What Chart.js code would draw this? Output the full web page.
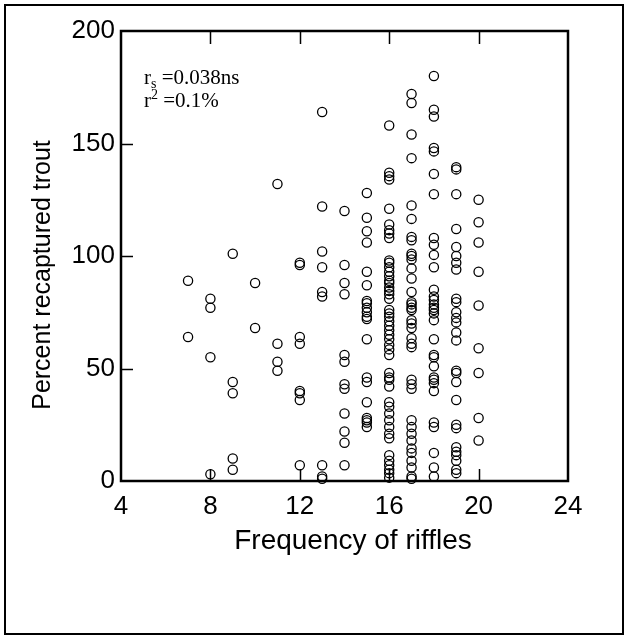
<!DOCTYPE html>
<html>
<head>
<meta charset="utf-8">
<script src="https://cdn.jsdelivr.net/npm/chart.js@4/dist/chart.umd.min.js"></script>
<style>
  body { margin: 0; background: #fff; }
  #wrap { width: 627px; height: 637px; }
</style>
</head>
<body>
<div id="wrap"><canvas id="mycanvas" width="627" height="637"></canvas></div>
<script>
// riffle frequency for each column of points
var riffleCounts = [7, 8, 9, 10, 11, 12, 13, 14, 15, 16, 17, 18, 19, 20];

// percent of recaptured trout, one list per riffle count
var recaptured = [
	[89, 64],
	[81, 77, 55, 3],
	[101, 44, 39, 10, 5],
	[88, 68],
	[132, 61, 53, 49],
	[97, 96, 64, 61, 40, 39, 36, 7],
	[164, 122, 102, 95, 84, 82, 7, 2, 1],
	[120, 96, 88, 83, 56, 53, 43, 41, 30, 22, 17, 7],
	[128, 117, 111, 106, 93, 87, 80, 79, 77, 75, 73, 72, 63, 46, 44, 35, 28, 27, 26, 24],
	[158, 137, 135.5, 134, 121, 114, 111.5, 110, 108, 98, 97, 95, 93, 91, 89, 88, 86, 84.5, 83, 81,
	 76, 74.5, 73, 71, 69, 67, 65, 63, 60.5, 58.5, 56, 48, 46, 45, 42, 35, 33, 30, 27, 24, 21, 19,
	 11.5, 9, 7, 5, 3.5, 1.5],
	[172, 168, 154, 143.5, 122.5, 116.5, 108.5, 107, 101, 100, 98.5, 94.5, 90, 84, 79.5, 78.5, 77, 76,
	 71.5, 70, 68, 63.5, 61, 59.5, 45, 43, 41, 27, 24, 21, 18, 14.5, 12.5, 9, 6, 2, 1],
	[180, 165, 162, 148, 146.5, 136.5, 127.5, 108, 105, 100.5, 95, 85, 82, 80.5, 78.5, 77, 76, 74.5,
	 71.5, 63, 56, 55, 51, 46, 45, 43.5, 40, 26, 24, 12.5, 6, 2],
	[139.5, 138.5, 127.5, 112, 104, 100, 97, 94, 81, 79.5, 75, 72.5, 70.5, 66, 62.5, 49, 48, 44, 36,
	 25, 23.5, 15, 13, 11.5, 9, 5, 3.5],
	[125, 115, 106, 93, 78, 59, 48, 28, 18]
];

var xTicks = [4, 8, 12, 16, 20, 24];
var yTicks = [0, 50, 100, 150, 200];
var xTitle = 'Frequency of riffles';
var yTitle = 'Percent recaptured trout';

var points = [];
for (var i in riffleCounts) {
	for (var j in recaptured[i]) {
		points.push({x: riffleCounts[i], y: recaptured[i][j]});
	}
}

// box, inward ticks, outer frame, axis titles and the r values
var decorations = {
	id: 'decorations',
	afterDraw: function(chart) {
		var ctx = chart.ctx;
		var a = chart.chartArea;
		var xs = chart.scales.x, ys = chart.scales.y;
		ctx.save();
		ctx.strokeStyle = '#000';

		ctx.lineWidth = 2;
		ctx.strokeRect(5, 5, 618, 629);

		ctx.lineWidth = 2.5;
		ctx.strokeRect(a.left, a.top, a.right - a.left, a.bottom - a.top);

		ctx.lineWidth = 1.5;
		ctx.beginPath();
		for (var k = 1; k < xTicks.length - 1; k++) {
			var px = Math.round(xs.getPixelForValue(xTicks[k])) + 0.5;
			ctx.moveTo(px, a.top); ctx.lineTo(px, a.top + 13);
			ctx.moveTo(px, a.bottom); ctx.lineTo(px, a.bottom - 12);
		}
		for (var k = 1; k < yTicks.length - 1; k++) {
			var py = Math.round(ys.getPixelForValue(yTicks[k])) + 0.5;
			ctx.moveTo(a.left, py); ctx.lineTo(a.left + 12, py);
		}
		ctx.stroke();

		ctx.fillStyle = '#000';
		ctx.textAlign = 'center';
		ctx.textBaseline = 'middle';
		ctx.font = '28px "Liberation Sans", Arial, sans-serif';
		ctx.fillText(xTitle, 353, 541);
		ctx.save();
		ctx.translate(43, 275);
		ctx.rotate(-Math.PI / 2);
		ctx.font = '25px "Liberation Sans", Arial, sans-serif';
		ctx.fillText(yTitle, 0, 0);
		ctx.restore();

		ctx.textAlign = 'left';
		ctx.textBaseline = 'alphabetic';
		var big = '21px "Liberation Serif", "Times New Roman", serif';
		var small = '14px "Liberation Serif", "Times New Roman", serif';
		var x0 = a.left + 23, b1 = 84, b2 = 107;
		ctx.font = big;
		ctx.fillText('r', x0, b1);
		var w = ctx.measureText('r').width;
		ctx.font = small;
		ctx.fillText('s', x0 + w, b1 + 4);
		var ws = ctx.measureText('s').width;
		ctx.font = big;
		ctx.fillText(' =0.038ns', x0 + w + ws, b1);

		ctx.fillText('r', x0, b2);
		ctx.font = small;
		ctx.fillText('2', x0 + w, b2 - 8);
		var w2 = ctx.measureText('2').width;
		ctx.font = big;
		ctx.fillText(' =0.1%', x0 + w + w2, b2);
		ctx.restore();
	}
};

var tickFont = {family: '"Liberation Sans", Arial, sans-serif', size: 26};

var ctx = document.getElementById('mycanvas');
var scatter = new Chart(ctx, {
	type: 'scatter',
	data: {
		datasets: [{
			data: points,
			pointStyle: 'circle',
			pointRadius: 4.6,
			pointBorderWidth: 1.3,
			borderColor: '#000',
			backgroundColor: 'rgba(0,0,0,0)',
			clip: false
		}]
	},
	options: {
		responsive: false,
		animation: false,
		devicePixelRatio: 1,
		layout: {padding: {left: 0, top: 31, right: 59, bottom: 82}},
		plugins: {legend: {display: false}, tooltip: {enabled: false}},
		scales: {
			x: {
				type: 'linear', min: 4, max: 24,
				grid: {display: false, drawTicks: false},
				border: {display: false},
				ticks: {stepSize: 4, padding: 10, color: '#000', font: tickFont, maxRotation: 0},
				afterFit: function(s) { s.height = 74; }
			},
			y: {
				type: 'linear', min: 0, max: 200,
				grid: {display: false, drawTicks: false},
				border: {display: false},
				ticks: {stepSize: 50, padding: 6, color: '#000', font: tickFont},
				afterFit: function(s) { s.width = 121; }
			}
		}
	},
	plugins: [decorations]
});
</script>
</body>
</html>
